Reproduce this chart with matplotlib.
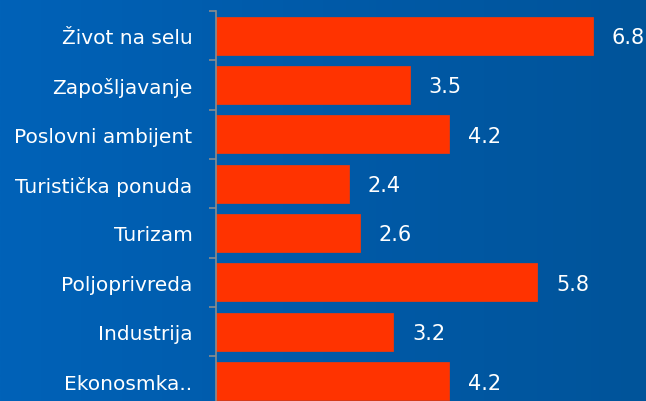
import numpy as np
import matplotlib.pyplot as plt
from matplotlib.colors import LinearSegmentedColormap

categories = ["Život na selu", "Zapošljavanje", "Poslovni ambijent", "Turistička ponuda",
              "Turizam", "Poljoprivreda", "Industrija", "Ekonosmka.."]
values = [6.8, 3.5, 4.2, 2.4, 2.6, 5.8, 3.2, 4.2]

fig = plt.figure(figsize=(6.46, 4.02), dpi=100)

# background gradient, lighter blue on the left
bg = fig.add_axes([0, 0, 1, 1])
grad = LinearSegmentedColormap.from_list("bg", ["#0062b8", "#005aa8", "#00549a"])
bg.imshow(np.linspace(0, 1, 256).reshape(1, -1), aspect="auto", cmap=grad, extent=[0, 1, 0, 1])
bg.axis("off")

ax = fig.add_axes([216 / 646, -0.0117, 430 / 646, 0.982])
ax.patch.set_alpha(0)
y = np.arange(len(categories))
ax.barh(y, values, height=0.77, color="#ff3300", edgecolor="#e83a10", linewidth=0.6)
ax.set_ylim(len(categories) - 0.5, -0.5)
ax.set_xlim(0, 7.76)

for yi, v in zip(y, values):
    ax.text(v + 0.34, yi + 0.03, f"{v:.1f}", va="center", ha="left", color="white", fontsize=15)

ax.set_yticks(y)
ax.set_yticklabels(categories, color="white", fontsize=14.5)
ax.set_yticks(np.arange(len(categories) + 1) - 0.5, minor=True)
ax.tick_params(axis="y", which="major", length=0, pad=17)
ax.tick_params(axis="y", which="minor", length=5, width=1.2, color="#8c8c8c")
ax.set_xticks([])
for s in ["top", "right", "bottom"]:
    ax.spines[s].set_visible(False)
ax.spines["left"].set_color("#8c8c8c")
ax.spines["left"].set_linewidth(1.2)
ax.spines["left"].set_bounds(len(categories) - 0.5, -0.5)

fig.savefig("out.png", dpi=100)
